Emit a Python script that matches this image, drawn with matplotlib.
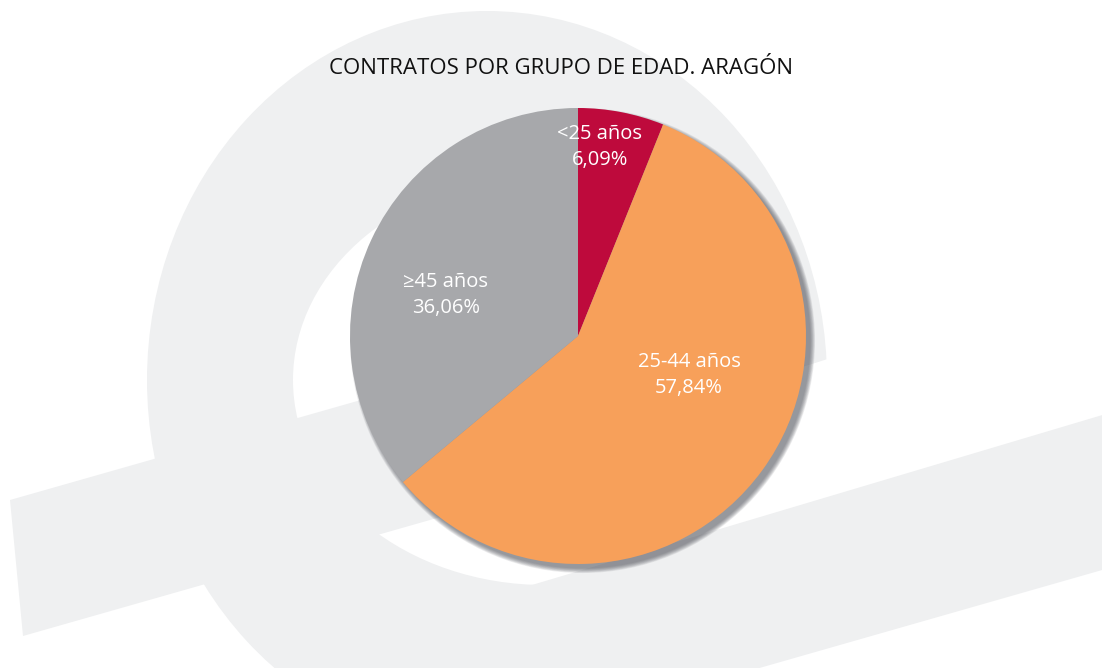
import matplotlib
matplotlib.use("Agg")
import matplotlib.pyplot as plt
from matplotlib.patches import Ellipse, Polygon, Circle

# data
grupos = ["<25 años", "25-44 años", "≥45 años"]
porcentajes = [6.09, 57.84, 36.06]
colores = ["#be0a3c", "#f7a05a", "#a7a8ab"]
titulo = "CONTRATOS POR GRUPO DE EDAD. ARAGÓN"

# label spots inside the pie (pie units, radius = 1)
label_xy = [(0.096, 0.829), (0.487, -0.173), (-0.579, 0.180)]

W, H = 1102, 668
fonts = ["Open Sans", "DejaVu Sans"]
marca = "#eff0f1"

fig = plt.figure(figsize=(W / 100, H / 100), dpi=100)

# background watermark, drawn in pixel space
bg = fig.add_axes([0, 0, 1, 1])
bg.set_xlim(0, W)
bg.set_ylim(H, 0)
bg.axis("off")

bg.add_patch(Ellipse((487, 380), 680, 738, color=marca, lw=0))
bg.add_patch(Ellipse((545, 380), 504, 410, color="white", lw=0))
# opening of the "e" on the right
bg.add_patch(Polygon([(700, 560), (700, 400), (840, 355), (900, 355), (900, 600)],
                     color="white", lw=0))
# crossbar
bg.add_patch(Polygon([(10, 500), (790, 500 - 0.285 * 780),
                      (790, 636 - 0.285 * 767), (23, 636)], color=marca, lw=0))
# tail
bg.add_patch(Polygon([(520, 520 + 0.298 * 230), (1110, 520 - 0.298 * 360),
                      (1110, 667 - 0.286 * 347), (520, 667 + 0.286 * 243)],
                     color=marca, lw=0))

bg.text(561, 68, titulo, ha="center", va="center", fontsize=16,
        family=fonts, color="#111111")

# pie axes, centre (578, 336) px, radius 228 px
cx, cy, r = 578, 336, 228
lim = 1.1
side = 2 * r * lim
ax = fig.add_axes([(cx - r * lim) / W, (H - cy - r * lim) / H, side / W, side / H])

# soft shadow, lower right only
for k in range(8):
    ax.add_patch(Circle((0.02, -0.02), 1.0 + 0.0028 * k, color="#50525a",
                        alpha=0.1, lw=0, zorder=0))

ax.pie(porcentajes, colors=colores, startangle=90, counterclock=False,
       radius=1, wedgeprops=dict(lw=0), frame=True)
ax.set_xlim(-lim, lim)
ax.set_ylim(-lim, lim)
ax.set_aspect("equal")
ax.axis("off")

for g, p, (x, y) in zip(grupos, porcentajes, label_xy):
    txt = g + "\n" + f"{p:.2f}".replace(".", ",") + "%"
    ax.text(x, y, txt, ha="center", va="center", color="white", fontsize=14.5,
            family=fonts, linespacing=1.4)

fig.savefig("out.png", dpi=100)
